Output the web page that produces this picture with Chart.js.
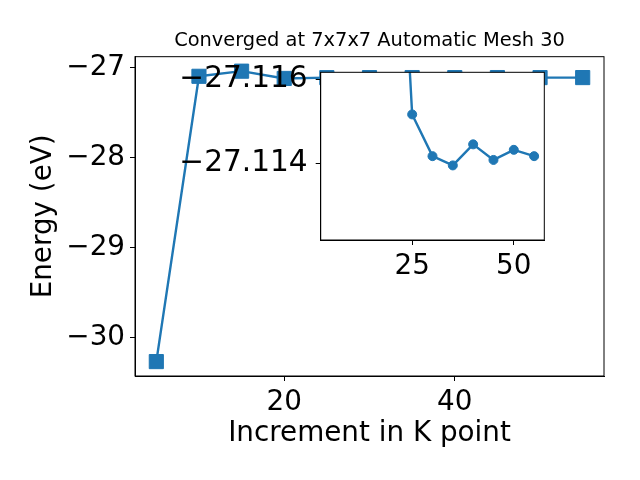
<!DOCTYPE html>
<html><head><meta charset="utf-8">
<script src="https://cdn.jsdelivr.net/npm/chart.js@4"></script>
<style>
html,body{margin:0;padding:0;background:#fff;}
#wrap{position:relative;width:640px;height:480px;background:#fff;}
#wrap canvas{position:absolute;left:0;top:0;}
</style></head><body>
<div id="wrap"><canvas id="main" width="640" height="480"></canvas><canvas id="inset" width="640" height="480"></canvas></div>
<script>
// ---- data ----
const kPoints = [5, 10, 15, 20, 25, 30, 35, 40, 45, 50, 55];
const energies = [-30.27, -27.10, -27.043, -27.124, -27.11516, -27.11417, -27.11395, -27.11445, -27.11408, -27.11432, -27.11417];
const insetFromIndex = 3; // inset curve starts at k = 20
const mainXTicks = [20, 40];
const mainYTicks = [-30, -29, -28, -27];
const insetXTicks = [25, 50];
const insetYTicks = [-27.116, -27.114];
const titleText = 'Converged at 7x7x7 Automatic Mesh 30';
const xLabel = 'Increment in K point';
const yLabel = 'Energy (eV)';

// ---- style ----
const FONT = 'DejaVu Sans';
const BLUE = '#1f77b4';
const BIG = 27.8;
const minus = s => String(s).replace('-', '\u2212');

const framePlugin = {
  id: 'frame',
  afterDatasetsDraw(chart) {
    const {ctx, chartArea: a} = chart;
    ctx.save();
    ctx.strokeStyle = '#000';
    ctx.lineWidth = 1;
    ctx.strokeRect(a.left, a.top, a.right - a.left, a.bottom - a.top);
    ctx.restore();
  }
};
const whiteBg = {
  id: 'whiteBg',
  beforeDraw(chart) {
    const {ctx, chartArea: a} = chart;
    ctx.save();
    ctx.fillStyle = '#fff';
    ctx.fillRect(a.left, a.top, a.right - a.left, a.bottom - a.top);
    ctx.restore();
  }
};

function axisCommon(ticksArr, fmt, size, pad) {
  return {
    type: 'linear',
    afterBuildTicks: s => { s.ticks = ticksArr.map(v => ({value: v})); },
    grid: {drawOnChartArea: false, drawTicks: true, tickLength: 5, tickColor: '#000', tickWidth: 1},
    border: {display: true, color: '#000', width: 1},
    ticks: {font: {family: FONT, size: size}, color: '#000', padding: pad, autoSkip: false, maxRotation: 0, callback: fmt}
  };
}

const mainPts = kPoints.map((k, i) => ({x: k, y: energies[i]}));
const insetPts = kPoints.slice(insetFromIndex).map((k, i) => ({x: k, y: energies[i + insetFromIndex]}));

new Chart(document.getElementById('main'), {
  type: 'line',
  data: {datasets: [{
    data: mainPts, borderColor: BLUE, backgroundColor: BLUE, borderWidth: 2.4,
    pointStyle: 'rect', pointRadius: 10, pointBorderWidth: 1, pointBorderColor: BLUE,
    pointBackgroundColor: BLUE, borderJoinStyle: 'round', tension: 0, fill: false
  }]},
  options: {
    responsive: false, animation: false, devicePixelRatio: 1,
    layout: {padding: {left: 0, right: 36, top: 0, bottom: 0}},
    plugins: {
      legend: {display: false}, tooltip: {enabled: false},
      title: {display: true, text: titleText, fullSize: false, color: '#000',
        font: {family: FONT, size: 19.4, weight: 'normal'}, padding: {top: 29.3, bottom: 4.1}}
    },
    scales: {
      x: Object.assign(axisCommon(mainXTicks, v => minus(v), BIG, 5), {
        min: 2.5, max: 57.5,
        afterFit: s => { s.height = 104; },
        title: {display: true, text: xLabel, color: '#000', font: {family: FONT, size: BIG}, padding: {top: 0, bottom: 30}}
      }),
      y: Object.assign(axisCommon(mainYTicks, v => minus(v), BIG, 5), {
        min: -30.43, max: -26.882,
        afterFit: s => { s.width = 135; },
        title: {display: true, text: yLabel, color: '#000', font: {family: FONT, size: BIG}, padding: {top: 27, bottom: 0}}
      })
    }
  },
  plugins: [framePlugin]
});

new Chart(document.getElementById('inset'), {
  type: 'line',
  data: {datasets: [{
    data: insetPts, borderColor: BLUE, backgroundColor: BLUE, borderWidth: 2.4,
    pointStyle: 'circle', pointRadius: 4.5, pointBorderWidth: 1, pointBorderColor: BLUE,
    pointBackgroundColor: BLUE, borderJoinStyle: 'round', tension: 0, fill: false
  }]},
  options: {
    responsive: false, animation: false, devicePixelRatio: 1,
    layout: {padding: {left: 170.7, right: 95.7, top: 72.3, bottom: 180}},
    plugins: {legend: {display: false}, tooltip: {enabled: false}, title: {display: false}},
    scales: {
      x: Object.assign(axisCommon(insetXTicks, v => minus(v), BIG, 5), {
        min: 2.5, max: 57.5,
        afterFit: s => { s.height = 60; }
      }),
      y: Object.assign(axisCommon(insetYTicks, v => minus(Number(v).toFixed(3)), 29.6, 8), {
        min: -27.11616, max: -27.11218, reverse: true,
        afterFit: s => { s.width = 150; }
      })
    }
  },
  plugins: [whiteBg, framePlugin]
});
</script>
</body></html>
